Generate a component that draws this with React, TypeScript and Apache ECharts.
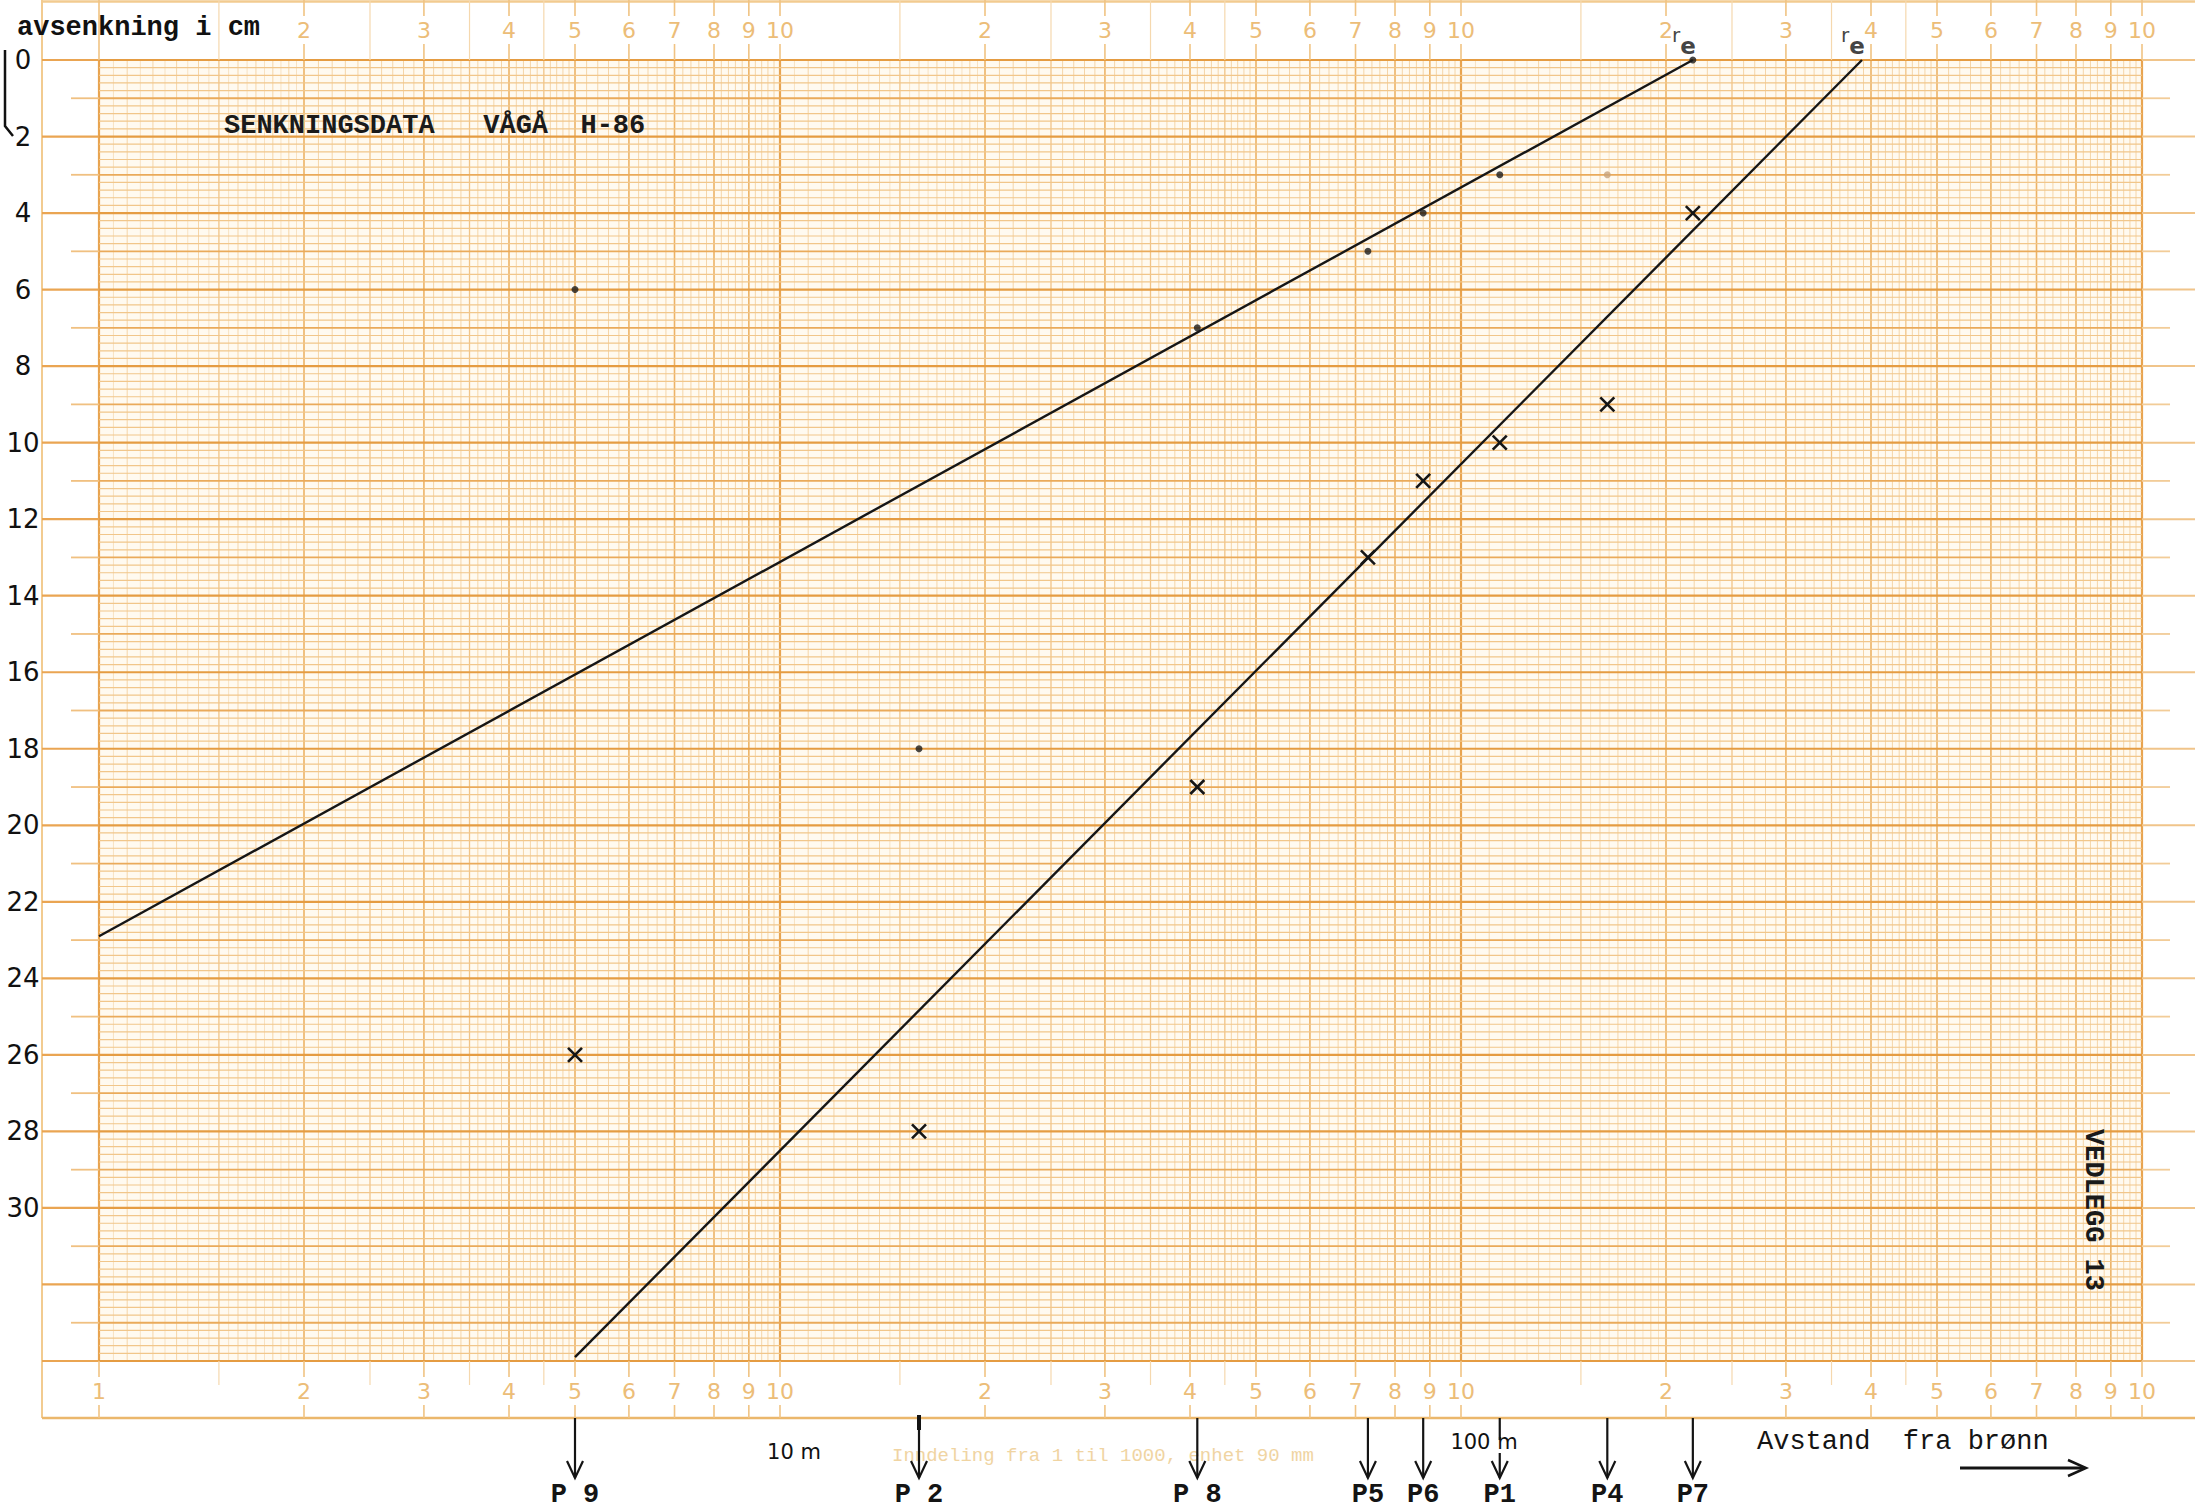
import React, { useEffect, useRef } from "react";
import * as echarts from "echarts";

const CHART_W = 2195;
const CHART_H = 1511;

// ---- data ----
const yLabels = [0, 2, 4, 6, 8, 10, 12, 14, 16, 18, 20, 22, 24, 26, 28, 30];
const topTickValues = [2, 3, 4, 5, 6, 7, 8, 9, 10, 20, 30, 40, 50, 60, 70, 80, 90, 100, 200, 300, 400, 500, 600, 700, 800, 900, 1000];
const bottomTickValues = [1, 2, 3, 4, 5, 6, 7, 8, 9, 10, 20, 30, 40, 50, 60, 70, 80, 90, 100, 200, 300, 400, 500, 600, 700, 800, 900, 1000];

const wellNames = ["P 9", "P 2", "P 8", "P5", "P6", "P1", "P4", "P7"];
const wellDistance = [5, 16, 41, 73, 88, 114, 164, 219];

// dots (upper data set)
const dotDistance = [5, 16, 41, 73, 88, 114, 219];
const dotDrawdown = [6, 18, 7, 5, 4, 3, 0];
const faintDotDistance = [164];
const faintDotDrawdown = [3];

// crosses (lower data set)
const crossDistance = [5, 16, 41, 73, 88, 114, 164, 219];
const crossDrawdown = [26, 28, 19, 13, 11, 10, 9, 4];

// fitted straight lines
const upperLineX = [1, 219];
const upperLineY = [22.9, 0];
const lowerLineX = [5, 388];
const lowerLineY = [33.9, 0];

// r_e endpoints
const reX = [219, 388];
const reY = [0, 0];

const Y_MAX = 34;
const DECADES = [1, 10, 100];

const MONO = "'Liberation Mono', 'DejaVu Sans Mono', monospace";
const HAND = "'DejaVu Sans', 'Noto Sans', sans-serif";
const TICKTXT = "'DejaVu Sans', sans-serif";

const tickText = (v: number) => {
  if (v === 1) return "1";
  if (v === 10 || v === 100 || v === 1000) return "10";
  const p = Math.pow(10, Math.floor(Math.log10(v) + 1e-9));
  return String(Math.round(v / p));
};

// paper ruling (graph-paper structure, not data)
type GL = { v: number; w: number };
const verticalGrid: GL[] = (() => {
  const out: GL[] = [];
  for (const d of DECADES) {
    for (let i = 0; i < 20; i++) {
      const m = 1 + i * 0.05;
      out.push({ v: m * d, w: i === 0 ? 3 : i === 10 ? 1.5 : i % 2 === 0 ? 1 : 0.5 });
    }
    for (let i = 0; i < 30; i++) {
      const m = 2 + i * 0.1;
      out.push({ v: m * d, w: i % 10 === 0 ? 2 : i % 5 === 0 ? 1.5 : 1 });
    }
    for (let i = 0; i < 25; i++) {
      const m = 5 + i * 0.2;
      out.push({ v: m * d, w: i % 5 === 0 ? 2 : 1 });
    }
  }
  out.push({ v: 1000, w: 3 });
  return out;
})();

const VSTYLE: Record<string, { stroke: string; lw: number }> = {
  "3": { stroke: "#e8a450", lw: 2.2 },
  "2": { stroke: "#edb366", lw: 1.6 },
  "1.5": { stroke: "#f1c487", lw: 1.3 },
  "1": { stroke: "#f5d5a8", lw: 1 },
  "0.5": { stroke: "#f8e2c2", lw: 1 },
};

const bandValues: { v: number; major: boolean }[] = (() => {
  const out: { v: number; major: boolean }[] = [];
  for (const d of DECADES) {
    for (const m of [1, 1.5, 2, 2.5, 3, 3.5, 4, 4.5, 5, 6, 7, 8, 9]) {
      out.push({ v: m * d, major: Number.isInteger(m) });
    }
  }
  out.push({ v: 1000, major: true });
  return out;
})();

function renderPaper(_params: any, api: any) {
  const c = (x: number, y: number) => api.coord([x, y]);
  const [xL, yT] = c(1, 0);
  const [xR, yB] = c(1000, Y_MAX);
  const frameX = 42;
  const bandBottom = yB + 57;
  const ch: any[] = [];
  const line = (a: number, b: number, c2: number, d: number, stroke: string, lw: number) =>
    ch.push({ type: "line", shape: { x1: a, y1: b, x2: c2, y2: d }, style: { stroke, lineWidth: lw } });

  // frame
  line(frameX, 0, frameX, bandBottom, "#f2cb90", 2);
  line(frameX, 1.5, CHART_W, 1.5, "#f2cb90", 2.5);
  line(frameX, bandBottom, CHART_W, bandBottom, "#ebb76c", 2.5);

  // vertical ruling
  for (const g of verticalGrid) {
    const x = c(g.v, 0)[0];
    const s = VSTYLE[String(g.w)];
    line(x, yT, x, yB, s.stroke, s.lw);
  }
  // horizontal ruling
  for (let k = 0; k <= Y_MAX * 5; k++) {
    const y = c(1, k / 5)[1];
    if (k % 10 === 0) {
      line(frameX, y, xL, y, "#eaa552", 2.2);
      line(xL, y, xR, y, "#e59c42", 2.2);
      line(xR, y, CHART_W, y, "#f0c48a", 2);
    } else if (k % 5 === 0) {
      line(xL - 28, y, xL, y, "#f0c081", 1.8);
      line(xL, y, xR, y, "#eaaa5a", 1.8);
      line(xR, y, xR + 28, y, "#f2cc98", 1.8);
    } else {
      line(xL, y, xR, y, "#f1c68a", 1.2);
    }
  }

  // label bands
  for (const b of bandValues) {
    const x = c(b.v, 0)[0];
    line(x, 0, x, yT, b.major ? "#f0c383" : "#f5d8ae", b.major ? 1.6 : 1.2);
    if (b.major) line(x, yB, x, bandBottom, "#f0c383", 1.6);
    else line(x, yB, x, yB + 24, "#f5d8ae", 1.2);
  }
  for (const v of topTickValues) {
    const x = c(v, 0)[0];
    ch.push({
      type: "text",
      x,
      y: 30,
      style: {
        text: tickText(v),
        fill: "#ecbd78",
        fontSize: 22,
        fontFamily: TICKTXT,
        align: "center",
        verticalAlign: "middle",
        backgroundColor: "#ffffff",
        padding: [3, 2],
      },
    });
  }
  for (const v of bottomTickValues) {
    const x = c(v, 0)[0];
    ch.push({
      type: "text",
      x,
      y: yB + 30,
      style: {
        text: tickText(v),
        fill: "#ecbd78",
        fontSize: 22,
        fontFamily: TICKTXT,
        align: "center",
        verticalAlign: "middle",
        backgroundColor: "#ffffff",
        padding: [3, 2],
      },
    });
  }
  return { type: "group", children: ch };
}

function renderWell(params: any, api: any) {
  const x = api.coord([api.value(0), Y_MAX])[0];
  const yB = api.coord([1, Y_MAX])[1];
  const bandBottom = yB + 57;
  const name = wellNames[params.dataIndex];
  const end = bandBottom + 60;
  const start = name === "P1" ? bandBottom + 35 : bandBottom;
  const ch: any[] = [
    { type: "line", shape: { x1: x, y1: start, x2: x, y2: end }, style: { stroke: "#141414", lineWidth: 2.2 } },
    {
      type: "polyline",
      shape: { points: [[x - 8, end - 17], [x, end], [x + 8, end - 17]] },
      style: { stroke: "#141414", lineWidth: 2.2, fill: "none" },
    },
    {
      type: "text",
      x,
      y: end + 17,
      style: { text: name, fill: "#141414", fontSize: 27, fontFamily: MONO, fontWeight: "bold", align: "center", verticalAlign: "middle" },
    },
  ];
  if (name === "P1") {
    ch.push({ type: "line", shape: { x1: x, y1: bandBottom, x2: x, y2: bandBottom + 22 }, style: { stroke: "#141414", lineWidth: 2.2 } });
  }
  if (name === "P 2") {
    ch.push({ type: "line", shape: { x1: x, y1: bandBottom - 3, x2: x, y2: bandBottom + 12 }, style: { stroke: "#141414", lineWidth: 4 } });
  }
  return { type: "group", children: ch };
}

function renderCross(_params: any, api: any) {
  const [x, y] = api.coord([api.value(0), api.value(1)]);
  const r = 7;
  return {
    type: "group",
    children: [
      { type: "line", shape: { x1: x - r, y1: y - r, x2: x + r, y2: y + r }, style: { stroke: "#151515", lineWidth: 2.6 } },
      { type: "line", shape: { x1: x - r, y1: y + r, x2: x + r, y2: y - r }, style: { stroke: "#151515", lineWidth: 2.6 } },
    ],
  };
}

const option: any = {
  animation: false,
  backgroundColor: "#ffffff",
  grid: { left: 99, right: 53, top: 60, bottom: 150, show: true, backgroundColor: "#fffaf0", borderWidth: 0 },
  xAxis: {
    type: "log",
    logBase: 10,
    min: 1,
    max: 1000,
    axisLine: { show: false },
    axisTick: { show: false },
    axisLabel: { show: false },
    splitLine: { show: false },
  },
  yAxis: {
    type: "value",
    min: 0,
    max: Y_MAX,
    interval: 2,
    inverse: true,
    axisLine: { show: false },
    axisTick: { show: false },
    splitLine: { show: false },
    axisLabel: {
      show: true,
      margin: 76,
      align: "center",
      fontFamily: HAND,
      fontSize: 26,
      color: "#111111",
      formatter: (v: number) => (yLabels.includes(v) ? String(v) : ""),
    },
  },
  graphic: [
    {
      type: "text",
      x: 17,
      y: 28,
      style: { text: "avsenkning i cm", fill: "#111", fontSize: 27, fontFamily: MONO, fontWeight: "bold", verticalAlign: "middle" },
      z: 10,
    },
    {
      type: "polyline",
      shape: { points: [[5, 50], [5, 126], [13, 136]] },
      style: { stroke: "#111", lineWidth: 2.5, fill: "none" },
    },
    {
      type: "text",
      x: 224,
      y: 126,
      style: { text: "SENKNINGSDATA   VÅGÅ  H-86", fill: "#1a1a1a", fontSize: 27, fontFamily: MONO, fontWeight: "bold", verticalAlign: "middle" },
      z: 10,
    },
    {
      type: "text",
      x: 2093,
      y: 1210,
      rotation: -Math.PI / 2,
      style: { text: "VEDLEGG 13", fill: "#1a1a1a", fontSize: 27, fontFamily: MONO, fontWeight: "bold", align: "center", verticalAlign: "middle" },
      z: 10,
    },
    {
      type: "text",
      x: 794,
      y: 1452,
      style: { text: "10 m", fill: "#111", fontSize: 21, fontFamily: HAND, align: "center", verticalAlign: "middle" },
    },
    {
      type: "text",
      x: 1484,
      y: 1442,
      style: { text: "100 m", fill: "#111", fontSize: 21, fontFamily: HAND, align: "center", verticalAlign: "middle" },
    },
    {
      type: "text",
      x: 892,
      y: 1456,
      style: {
        text: "Inndeling fra 1 til 1000, enhet 90 mm",
        fill: "#f0d4a2",
        fontSize: 19,
        fontFamily: MONO,
        verticalAlign: "middle",
      },
      z: -1,
    },
    {
      type: "text",
      x: 1757,
      y: 1442,
      style: { text: "Avstand  fra brønn", fill: "#141414", fontSize: 27, fontFamily: MONO, verticalAlign: "middle" },
    },
    {
      type: "line",
      shape: { x1: 1960, y1: 1468, x2: 2084, y2: 1468 },
      style: { stroke: "#141414", lineWidth: 3 },
    },
    {
      type: "polyline",
      shape: { points: [[2068, 1460], [2086, 1468], [2068, 1476]] },
      style: { stroke: "#141414", lineWidth: 2.5, fill: "none" },
    },
  ],
  series: [
    {
      type: "custom",
      name: "paper",
      silent: true,
      clip: false,
      z: 0,
      data: [[1, 0]],
      renderItem: renderPaper,
    },
    {
      type: "line",
      name: "upper",
      data: upperLineX.map((x, i) => [x, upperLineY[i]]),
      symbol: "none",
      lineStyle: { color: "#161616", width: 2.4 },
      z: 3,
    },
    {
      type: "line",
      name: "lower",
      data: lowerLineX.map((x, i) => [x, lowerLineY[i]]),
      symbol: "none",
      lineStyle: { color: "#161616", width: 2.4 },
      z: 3,
    },
    {
      type: "scatter",
      name: "dots",
      data: dotDistance.map((x, i) => [x, dotDrawdown[i]]),
      symbol: "circle",
      symbolSize: 7,
      itemStyle: { color: "#1c1c1c" },
      z: 4,
    },
    {
      type: "scatter",
      name: "faint",
      data: faintDotDistance.map((x, i) => [x, faintDotDrawdown[i]]),
      symbol: "circle",
      symbolSize: 7,
      itemStyle: { color: "#c8a27a" },
      z: 4,
    },
    {
      type: "custom",
      name: "crosses",
      data: crossDistance.map((x, i) => [x, crossDrawdown[i]]),
      renderItem: renderCross,
      clip: false,
      z: 5,
    },
    {
      type: "scatter",
      name: "re",
      data: reX.map((x, i) => [x, reY[i]]),
      symbolSize: 1,
      itemStyle: { color: "rgba(0,0,0,0)" },
      label: {
        show: true,
        position: "top",
        distance: 2,
        offset: [-9, 0],
        formatter: "{r|r}{e|e}",
        rich: {
          r: { fontSize: 20, fontFamily: HAND, color: "#111", verticalAlign: "top" },
          e: { fontSize: 23, fontFamily: HAND, fontWeight: "bold", color: "#111", verticalAlign: "bottom", padding: [10, 0, 0, 0] },
        },
      },
      z: 6,
    },
    {
      type: "custom",
      name: "wells",
      data: wellDistance.map((x) => [x, Y_MAX]),
      renderItem: renderWell,
      clip: false,
      silent: true,
      z: 6,
    },
  ],
};

export default function App() {
  const ref = useRef<HTMLDivElement>(null);
  useEffect(() => {
    if (!ref.current) return;
    const chart = echarts.init(ref.current, null, { renderer: "svg", width: CHART_W, height: CHART_H });
    chart.setOption(option);
    return () => chart.dispose();
  }, []);
  return (
    <div
      ref={ref}
      style={{ position: "fixed", left: 0, top: 0, width: CHART_W, height: CHART_H, background: "#ffffff" }}
    />
  );
}
